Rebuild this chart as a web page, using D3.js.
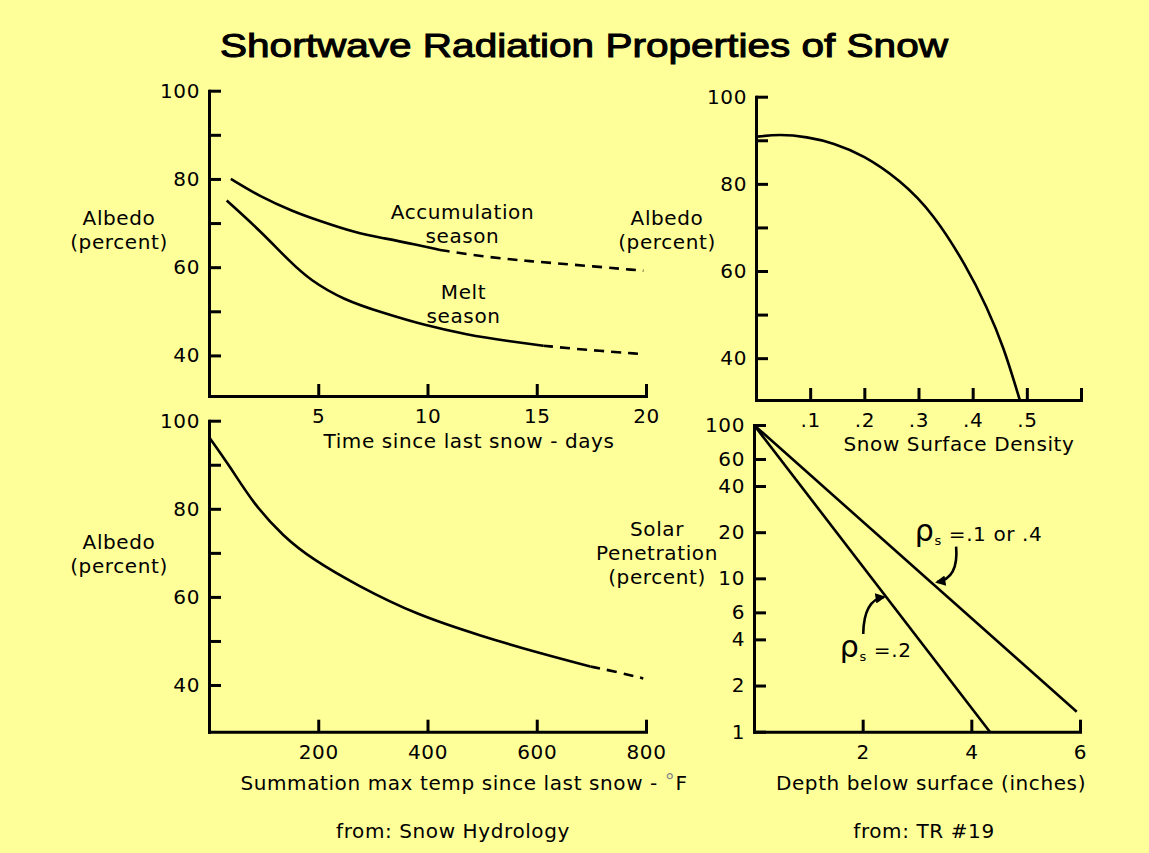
<!DOCTYPE html>
<html>
<head>
<meta charset="utf-8">
<script src="https://cdn.jsdelivr.net/npm/d3@7"></script>
<style>
  body { margin: 0; background: #ffff99; }
  svg text { font-family: "DejaVu Sans", sans-serif; font-size: 20px; letter-spacing: 0.6px; fill: #000; }
</style>
</head>
<body>
<div id="chart"></div>
<script>
// values

// top left: albedo vs days since last snow
var dayTicks = [5, 10, 15, 20];
var albedoTicks = [40, 50, 60, 70, 80, 90, 100];
var accumDays = [1.0, 2.33, 3.86, 4.93, 6.76, 7.98, 9.51, 10.57];
var accumAlbedo = [80, 76.0, 72.6, 70.7, 67.7, 66.6, 65.1, 63.9];
var accumDashDays = [10.57, 12.55, 14.54, 16.37, 19.88];
var accumDashAlbedo = [63.9, 62.4, 61.4, 60.7, 59.2];
var meltDays = [0.81, 2.33, 3.71, 4.62, 6.15, 7.98, 9.81, 11.79, 13.78, 15.3];
var meltAlbedo = [75.1, 68.3, 61.2, 57.1, 52.6, 49.6, 46.9, 44.7, 43.2, 42.2];
var meltDashDays = [15.3, 17.13, 19.88];
var meltDashAlbedo = [42.2, 41.3, 40.3];

// top right: albedo vs snow surface density
var densityTicks = [0.1, 0.2, 0.3, 0.4, 0.5, 0.6];
var density = [0, 0.044, 0.094, 0.143, 0.198, 0.266, 0.327, 0.389, 0.426, 0.457, 0.487];
var densityAlbedo = [90.8, 91.4, 90.8, 89.4, 86.6, 80.9, 73.3, 61.0, 51.8, 42.7, 30.4];

// bottom left: albedo vs summation of max temperature
var tempTicks = [200, 400, 600, 800];
var tempSum = [0, 38.5, 81.1, 136, 191, 270, 380, 502, 594, 698];
var tempAlbedo = [96.3, 89.6, 81.2, 73.7, 68.4, 62.7, 55.9, 51.0, 47.6, 44.2];
var tempDashSum = [698, 746, 795];
var tempDashAlbedo = [44.2, 43.0, 41.5];

// bottom right: solar penetration vs depth (log scale)
var depthTicks = [2, 4, 6];
var penTicks = [1, 2, 4, 6, 10, 20, 40, 60, 100];
var depthLow = [0, 5.94];      // rho_s = .1 or .4
var penLow = [100, 1.35];
var depthHigh = [0, 4.34];     // rho_s = .2
var penHigh = [100, 1.0];

var svg = d3.select("#chart").append("svg")
  .attr("width", 1149)
  .attr("height", 853);

svg.append("rect").attr("width", 1149).attr("height", 853).attr("fill", "#ffff99");

svg.append("defs").append("marker")
  .attr("id", "arrow")
  .attr("viewBox", "0 0 10 10")
  .attr("refX", 8).attr("refY", 5)
  .attr("markerWidth", 4.4).attr("markerHeight", 4)
  .attr("orient", "auto")
  .append("path").attr("d", "M0,0L10,5L0,10z").attr("fill", "#000");

// title
svg.append("text")
  .attr("x", 584).attr("y", 57)
  .attr("text-anchor", "middle")
  .style("font-family", "'Liberation Sans', Arial, sans-serif")
  .style("font-size", "33px")
  .style("letter-spacing", "0px")
  .attr("stroke", "#000")
  .attr("stroke-width", 1)
  .attr("textLength", 728)
  .attr("lengthAdjust", "spacingAndGlyphs")
  .text("Shortwave Radiation Properties of Snow");

// axes with ticks pointing inwards
function drawAxes(x, y, xTicks, xFmt, yTicks, yFmt) {
  var gx = svg.append("g")
    .attr("transform", "translate(0," + y.range()[0] + ")")
    .call(d3.axisBottom(x).tickValues(xTicks).tickFormat(xFmt)
      .tickSize(-12).tickSizeOuter(0).tickPadding(13));
  var gy = svg.append("g")
    .attr("transform", "translate(" + x.range()[0] + ",0)")
    .call(d3.axisLeft(y).tickValues(yTicks).tickFormat(yFmt)
      .tickSize(-12).tickSizeOuter(0).tickPadding(9));
  [gx, gy].forEach(function(a) {
    a.attr("font-family", null).attr("font-size", null);
    a.select(".domain").attr("stroke-width", 3).attr("stroke-linecap", "square");
    a.selectAll(".tick line").attr("stroke-width", 3);
  });
}

function drawLine(x, y, xs, ys, dashed) {
  var pts = xs.map(function(v, i) { return [v, ys[i]]; });
  svg.append("path")
    .datum(pts)
    .attr("fill", "none")
    .attr("stroke", "#000")
    .attr("stroke-width", 2.6)
    .attr("stroke-dasharray", dashed ? "10,7" : null)
    .attr("d", d3.line()
      .x(function(d) { return x(d[0]); })
      .y(function(d) { return y(d[1]); })
      .curve(d3.curveBasis));
}

function label(px, py, lines) {
  lines.forEach(function(t, i) {
    svg.append("text")
      .attr("x", px).attr("y", py + i * 24)
      .attr("dy", "0.35em")
      .attr("text-anchor", "middle")
      .text(t);
  });
}

var majorOnly = function(d) { return d % 20 === 0 ? d : ""; };

// ---- top left ----
var x1 = d3.scaleLinear().domain([0, 20]).range([209, 646]);
var y1 = d3.scaleLinear().domain([30.8, 100]).range([396, 90.7]);
drawAxes(x1, y1, dayTicks, d3.format("d"), albedoTicks, majorOnly);
drawLine(x1, y1, accumDays, accumAlbedo, false);
drawLine(x1, y1, accumDashDays, accumDashAlbedo, true);
drawLine(x1, y1, meltDays, meltAlbedo, false);
drawLine(x1, y1, meltDashDays, meltDashAlbedo, true);
label(x1(11.6), y1(72.4), ["Accumulation", "season"]);
label(x1(11.65), y1(54.3), ["Melt", "season"]);
label(119, 218, ["Albedo", "(percent)"]);
label(469, 441, ["Time since last snow - days"]);

// ---- top right ----
var x2 = d3.scaleLinear().domain([0, 0.6]).range([756, 1081]);
var y2 = d3.scaleLinear().domain([30.4, 100]).range([400, 96.7]);
drawAxes(x2, y2, densityTicks, function(d) { return d < 0.55 ? "." + Math.round(d * 10) : ""; },
  albedoTicks, majorOnly);
drawLine(x2, y2, density, densityAlbedo, false);
label(667, 218, ["Albedo", "(percent)"]);
label(959, 444, ["Snow Surface Density"]);

// ---- bottom left ----
var x3 = d3.scaleLinear().domain([0, 800]).range([209, 646]);
var y3 = d3.scaleLinear().domain([29.4, 100]).range([731.7, 420.7]);
drawAxes(x3, y3, tempTicks, d3.format("d"), albedoTicks, majorOnly);
drawLine(x3, y3, tempSum, tempAlbedo, false);
drawLine(x3, y3, tempDashSum, tempDashAlbedo, true);
label(119, 542, ["Albedo", "(percent)"]);
var tt = svg.append("text")
  .attr("x", 464).attr("y", 783).attr("dy", "0.35em")
  .attr("text-anchor", "middle");
tt.append("tspan").text("Summation max temp since last snow - ");
tt.append("tspan").attr("fill", "#888").attr("dy", -2).text("°");
tt.append("tspan").attr("dy", 2).text("F");

// ---- bottom right ----
var x4 = d3.scaleLinear().domain([0, 6]).range([754, 1080]);
var y4 = d3.scaleLog().domain([1, 100]).range([731.7, 425]);
drawAxes(x4, y4, depthTicks, d3.format("d"), penTicks, d3.format("d"));
drawLine(x4, y4, depthLow, penLow, false);
drawLine(x4, y4, depthHigh, penHigh, false);
label(657, 529, ["Solar", "Penetration", "(percent)"]);
label(931, 783, ["Depth below surface (inches)"]);

function rho(d, p, rest) {
  var t = svg.append("text").attr("x", x4(d)).attr("y", y4(p));
  t.append("tspan").style("font-size", "30px").text("ρ");
  t.append("tspan").style("font-size", "13px").attr("dy", 4).text("s");
  t.append("tspan").attr("dy", -4).text(" " + rest);
}
rho(2.96, 17.6, "=.1 or .4");
rho(1.58, 3.08, "=.2");

function arrow(s, c, e) {
  var p = d3.path();
  p.moveTo(x4(s[0]), y4(s[1]));
  p.quadraticCurveTo(x4(c[0]), y4(c[1]), x4(e[0]), y4(e[1]));
  svg.append("path")
    .attr("d", p.toString())
    .attr("fill", "none")
    .attr("stroke", "#000")
    .attr("stroke-width", 2.6)
    .attr("marker-end", "url(#arrow)");
}
arrow([3.72, 16.1], [3.77, 10.0], [3.37, 9.46]);
arrow([2.01, 4.33], [2.02, 7.22], [2.39, 7.55]);

// sources
label(453, 831, ["from: Snow Hydrology"]);
label(924, 831, ["from: TR #19"]);
</script>
</body>
</html>
